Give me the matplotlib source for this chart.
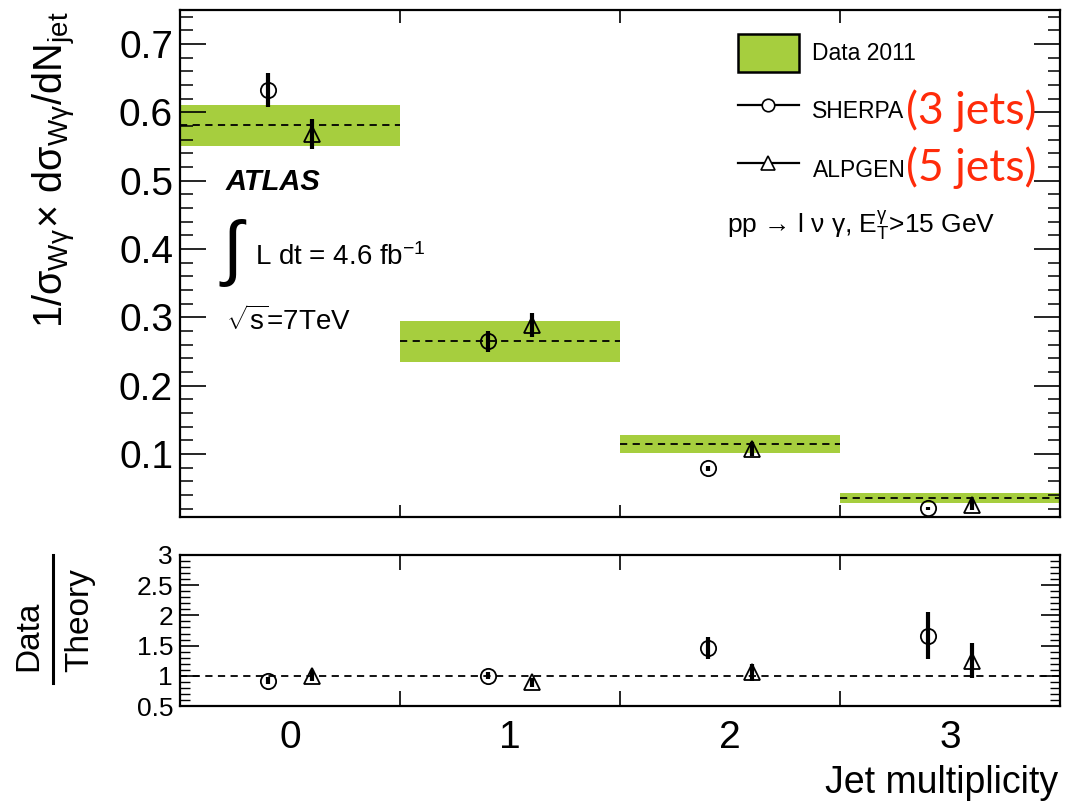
import matplotlib
matplotlib.use("Agg")
import matplotlib.pyplot as plt
from matplotlib.patches import Patch
from matplotlib.lines import Line2D
from matplotlib.ticker import MultipleLocator, FixedLocator
import numpy as np

plt.rcParams['font.family'] = ['Liberation Sans', 'DejaVu Sans']
plt.rcParams['mathtext.fontset'] = 'custom'
plt.rcParams['mathtext.rm'] = 'Liberation Sans'
plt.rcParams['mathtext.it'] = 'Liberation Sans:italic'
plt.rcParams['mathtext.bf'] = 'Liberation Sans:bold'
plt.rcParams['mathtext.sf'] = 'Liberation Sans'
plt.rcParams['mathtext.default'] = 'rm'

# ---------------- data ----------------
jet_bins = [0, 1, 2, 3]
bin_labels = ['0', '1', '2', '3']
data_val = [0.581, 0.265, 0.115, 0.036]
data_err = [0.030, 0.030, 0.013, 0.0076]
sherpa_val = [0.633, 0.265, 0.079, 0.0205]
sherpa_err = [0.025, 0.015, 0.004, 0.002]
alpgen_val = [0.568, 0.289, 0.108, 0.026]
alpgen_err = [0.022, 0.017, 0.010, 0.008]
ratio_sherpa = [0.92, 1.00, 1.46, 1.66]
ratio_sherpa_err = [0.06, 0.06, 0.19, 0.39]
ratio_alpgen = [1.00, 0.89, 1.06, 1.25]
ratio_alpgen_err = [0.09, 0.07, 0.14, 0.29]

green = '#A6CE3E'
W, H = 1067, 810
fig = plt.figure(figsize=(W / 100, H / 100), dpi=100)

def fx(px):
    return px / W

def fy(py):
    return 1 - py / H

ax = fig.add_axes([fx(180), fy(517), fx(1060) - fx(180), fy(10) - fy(517)])
axr = fig.add_axes([fx(180), fy(706), fx(1060) - fx(180), fy(555) - fy(706)])

x = np.array(jet_bins, dtype=float)
dv = np.array(data_val)
de = np.array(data_err)

# ---------------- top panel ----------------
ax.bar(x, 2 * de, bottom=dv - de, width=1.0, color=green, edgecolor='none', zorder=1)
ax.hlines(dv, x - 0.5, x + 0.5, colors='black', linestyles=(0, (4, 3)), lw=1.3, zorder=2)
ax.errorbar(x - 0.1, sherpa_val, yerr=sherpa_err, fmt='o', mfc='none', mec='black',
            mew=1.3, ms=11, ecolor='black', elinewidth=3, capsize=0, zorder=3)
ax.errorbar(x + 0.1, alpgen_val, yerr=alpgen_err, fmt='^', mfc='none', mec='black',
            mew=1.3, ms=12, ecolor='black', elinewidth=3, capsize=0, zorder=3)

ax.set_xlim(-0.5, 3.5)
ax.set_ylim(0.008, 0.75)
ax.yaxis.set_major_locator(FixedLocator([0.1, 0.2, 0.3, 0.4, 0.5, 0.6, 0.7]))
ax.yaxis.set_minor_locator(MultipleLocator(0.02))
ax.set_xticks([0.5, 1.5, 2.5])
ax.tick_params(axis='x', which='major', direction='in', length=9, width=1.2,
               top=True, bottom=True, labelbottom=False)
ax.tick_params(axis='y', which='major', direction='in', length=19, width=1.2,
               left=True, right=True, labelsize=28, pad=5)
ax.tick_params(axis='y', which='minor', direction='in', length=9, width=1.1,
               left=True, right=True)
ax.set_yticklabels(['0.1', '0.2', '0.3', '0.4', '0.5', '0.6', '0.7'])
for s in ax.spines.values():
    s.set_linewidth(1.6)

fig.text(fx(55), fy(12),
         r'$1/\sigma_{W\gamma}\!\times\, d\sigma_{W\gamma}/dN_{jet}$',
         rotation=90, ha='center', va='top', fontsize=28.5)

# legend
handles = [
    Patch(facecolor=green, edgecolor='black', linewidth=1.8),
    Line2D([], [], color='black', lw=1.6, marker='o', mfc='white', mec='black', ms=9, mew=1.2),
    Line2D([], [], color='black', lw=1.6, marker='^', mfc='white', mec='black', ms=10, mew=1.2),
]
leg = ax.legend(handles, ['Data 2011', 'SHERPA', 'ALPGEN'], loc='upper left',
                bbox_to_anchor=(fx(738), fy(34)), bbox_transform=fig.transFigure,
                frameon=False, fontsize=16.5, handlelength=2.65, handleheight=2.2,
                handletextpad=0.6, labelspacing=0.86, borderpad=0, borderaxespad=0)

fig.text(fx(906), fy(111), '(3 jets)', color='#FF2B0A', fontsize=32,
         family=['Lato', 'DejaVu Sans'], ha='left', va='center')
fig.text(fx(906), fy(168), '(5 jets)', color='#FF2B0A', fontsize=32,
         family=['Lato', 'DejaVu Sans'], ha='left', va='center')

fig.text(fx(727), fy(233),
         'pp \u2192 l \u03bd \u03b3, E$_{T}^{\\gamma}$>15 GeV',
         fontsize=19, ha='left', va='baseline')

fig.text(fx(226), fy(190), 'ATLAS', fontsize=21, fontweight='bold', fontstyle='italic',
         ha='left', va='baseline')
fig.text(fx(219), fy(253), r'$\int$', fontsize=52, ha='left', va='center')
fig.text(fx(255), fy(265), r'L dt = 4.6 fb$^{-1}$', fontsize=20, ha='left', va='baseline')
fig.text(fx(226), fy(330), r'$\sqrt{s}$=7TeV', fontsize=20, ha='left', va='baseline')

# ---------------- ratio panel ----------------
axr.axhline(1.0, color='black', ls=(0, (4, 3)), lw=1.3, zorder=1)
axr.errorbar(x - 0.1, ratio_sherpa, yerr=ratio_sherpa_err, fmt='o', mfc='none', mec='black',
             mew=1.3, ms=11, ecolor='black', elinewidth=3, capsize=0, zorder=3)
axr.errorbar(x + 0.1, ratio_alpgen, yerr=ratio_alpgen_err, fmt='^', mfc='none', mec='black',
             mew=1.3, ms=12, ecolor='black', elinewidth=3, capsize=0, zorder=3)
axr.set_xlim(-0.5, 3.5)
axr.set_ylim(0.5, 3.0)
axr.set_xticks([0.5, 1.5, 2.5])
axr.set_xticks(jet_bins, minor=True)
axr.set_xticklabels(bin_labels, minor=True)
axr.tick_params(axis='x', which='major', direction='in', length=11, width=1.2,
                top=True, bottom=True, labelbottom=False)
axr.tick_params(axis='x', which='minor', length=0, labelsize=28, pad=10)
axr.yaxis.set_major_locator(MultipleLocator(0.5))
axr.yaxis.set_minor_locator(MultipleLocator(0.1))
axr.set_yticks([0.5, 1, 1.5, 2, 2.5, 3])
axr.set_yticklabels(['0.5', '1', '1.5', '2', '2.5', '3'])
axr.tick_params(axis='y', which='major', direction='in', length=14, width=1.2,
                left=True, right=True, labelsize=19, pad=5)
axr.tick_params(axis='y', which='minor', direction='in', length=7, width=1.0,
                left=True, right=True)
for s in axr.spines.values():
    s.set_linewidth(1.6)

fig.text(fx(1058), fy(793), 'Jet multiplicity', fontsize=27, ha='right', va='baseline')

fig.text(fx(29), fy(636), 'Data', rotation=90, fontsize=24, ha='center', va='center')
fig.text(fx(80), fy(620), 'Theory', rotation=90, fontsize=24, ha='center', va='center')
fig.add_artist(Line2D([fx(53), fx(53)], [fy(683), fy(555)], color='black', lw=2.2,
                      transform=fig.transFigure))

fig.savefig('out.png', dpi=100)
